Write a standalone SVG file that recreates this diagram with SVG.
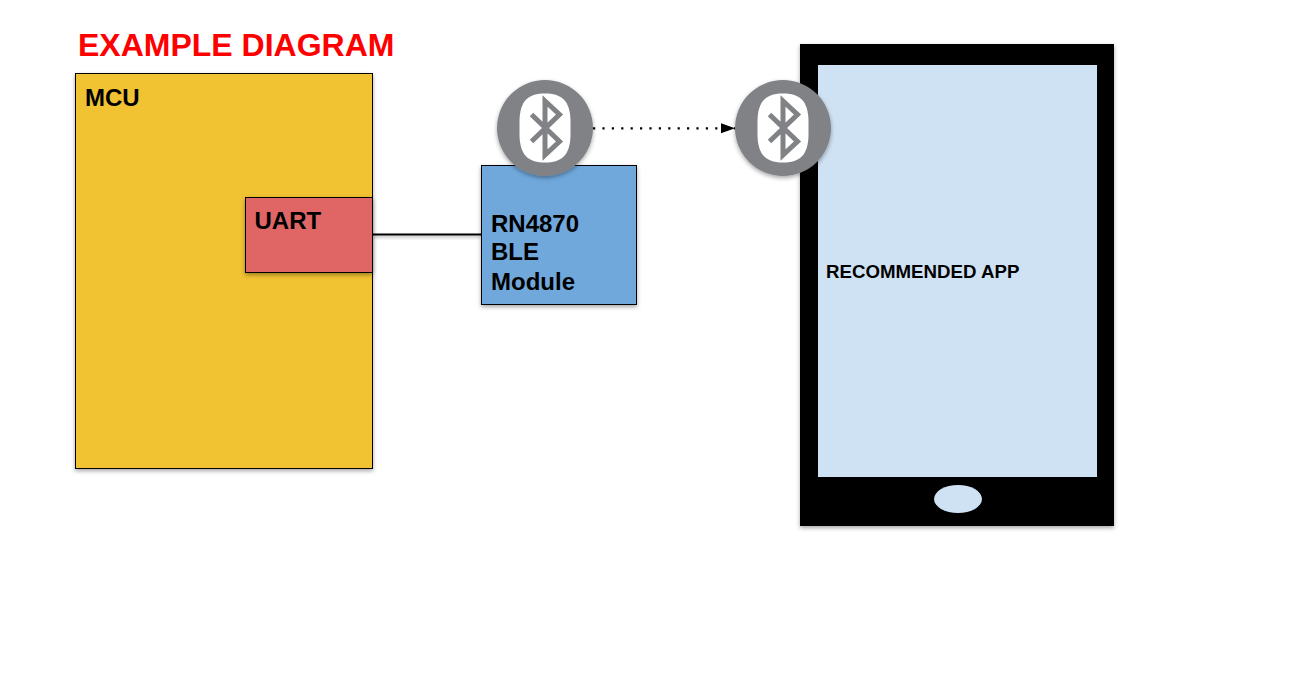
<svg xmlns="http://www.w3.org/2000/svg" xmlns:xlink="http://www.w3.org/1999/xlink" width="1298" height="698" viewBox="0 0 1298 698">
<style>
text{font-family:"Liberation Sans",Arial,sans-serif;font-weight:700;fill:#000}
.box{stroke:#000;stroke-width:1;filter:url(#sh)}
.t24{font-size:24px}
.glyph{fill:none;stroke:#808285;stroke-width:5}
</style>
<defs>
<filter id="sh" x="-10%" y="-10%" width="120%" height="120%"><feDropShadow dx="0" dy="2" stdDeviation="2" flood-color="#000" flood-opacity="0.35"/></filter>
<filter id="shline" filterUnits="userSpaceOnUse" x="360" y="225" width="130" height="20"><feDropShadow dx="0" dy="2" stdDeviation="1.500" flood-color="#000" flood-opacity="0.3"/></filter>
<marker id="arr" markerUnits="userSpaceOnUse" markerWidth="15" markerHeight="12" refX="14" refY="6" orient="auto"><path d="M0 1L14 6L0 11z" fill="#000"/></marker>
<g id="bt">
<circle cx="0" cy="0" r="48" fill="#808285" filter="url(#sh)"/>
<path d="M0 -34.500C16 -34.500 25.500 -28 25.500 -6V6C25.500 28 16 34.500 0 34.500C-16 34.500 -25.500 28 -25.500 6V-6C-25.500 -28 -16 -34.500 0 -34.500z" fill="#fff"/>
<path class="glyph" d="M-13.500 -13.500L14.500 13.500L0 27V-27L14.500 -13.500L-13.500 13.500"/>
</g>
</defs>
<rect width="1298" height="698" fill="#fff"/>
<text x="78" y="56" font-size="32" style="fill:#ff0000">EXAMPLE DIAGRAM</text>
<g id="connectors">
<path d="M373 234.500H481" fill="none" stroke="#000" stroke-width="2" filter="url(#shline)"/>
<path d="M593 128.300H735" fill="none" stroke="#000" stroke-width="2.200" stroke-dasharray="2.200 7.200" marker-end="url(#arr)"/>
</g>
<g id="mcu">
<rect class="box" x="75.500" y="73.500" width="297" height="395" fill="#f1c232"/>
<text x="85" y="106" class="t24">MCU</text>
</g>
<g id="uart">
<rect class="box" x="245.500" y="197.500" width="127" height="75" fill="#e06666"/>
<text x="254.500" y="229" class="t24">UART</text>
</g>
<g id="module">
<rect class="box" x="481.500" y="165.500" width="155" height="139" fill="#6fa8dc"/>
<text class="t24"><tspan x="491" y="232">RN4870</tspan><tspan x="491" y="260">BLE</tspan><tspan x="491" y="290">Module</tspan></text>
</g>
<g id="tablet">
<rect x="800" y="44" width="314" height="482" fill="#000" filter="url(#sh)"/>
<rect x="818" y="65" width="279" height="412" fill="#cfe2f3"/>
<ellipse cx="958" cy="499" rx="24" ry="14" fill="#cfe2f3"/>
<text x="826" y="278" font-size="18.700">RECOMMENDED APP</text>
</g>
<g id="bluetooth-module"><use xlink:href="#bt" href="#bt" x="545" y="128"/></g>
<g id="bluetooth-app"><use xlink:href="#bt" href="#bt" x="783" y="128"/></g>
</svg>
